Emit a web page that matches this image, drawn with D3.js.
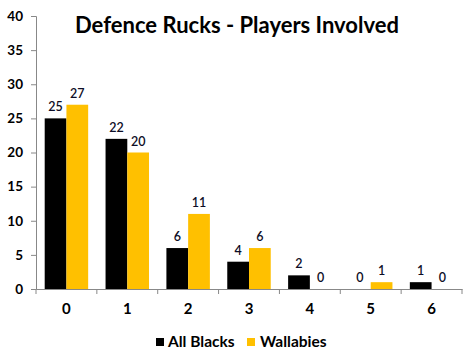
<!DOCTYPE html>
<html><head><meta charset="utf-8">
<script src="https://cdn.jsdelivr.net/npm/d3@7"></script>
<style>body{margin:0;background:#fff}svg{display:block}</style>
</head><body>
<script>
const categories = ["0","1","2","3","4","5","6"];
const seriesNames = ["All Blacks","Wallabies"];
const allBlacks = [25,22,6,4,2,0,1];
const wallabies = [27,20,11,6,0,1,0];
const yTicks = [0,5,10,15,20,25,30,35,40];
const title = "Defence Rucks - Players Involved";
const colors = ["#000000","#FFC000"];

(function(){
const W=470,H=356;
const svg=d3.select("body").append("svg").attr("width",W).attr("height",H);
const mLeft=36,mRight=462,mTop=16,mBottom=289;
const x=d3.scaleBand().domain(categories).range([mLeft,mRight]).paddingInner(0).paddingOuter(0);
const x1=d3.scaleBand().domain(seriesNames).range([0,x.bandwidth()]).paddingInner(0).paddingOuter(0.4);
const y=d3.scaleLinear().domain([0,40]).range([mBottom,mTop]);
const font="Lato, 'Open Sans', sans-serif";

const ya=svg.append("g").attr("transform",`translate(${mLeft},0)`)
  .call(d3.axisLeft(y).tickValues(yTicks).tickSize(5).tickPadding(8));
ya.select(".domain").attr("stroke","#888");
ya.selectAll(".tick line").attr("stroke","#888");
ya.selectAll("text").attr("font-family",font).attr("font-weight","bold").attr("font-size","13.5px").attr("fill","#000");

const xa=svg.append("g").attr("transform",`translate(0,${mBottom})`)
  .call(d3.axisBottom(x).tickSize(0).tickPadding(14));
xa.select(".domain").attr("stroke","#888");
xa.selectAll("text").attr("font-family",font).attr("font-weight","bold").attr("font-size","15px").attr("fill","#000");
const bounds=categories.map(c=>x(c)).concat([x.range()[1]]);
svg.append("g").selectAll("line").data(bounds).join("line")
  .attr("x1",d=>d).attr("x2",d=>d).attr("y1",mBottom).attr("y2",mBottom+5).attr("stroke","#888");

const series=[allBlacks,wallabies];
series.forEach((vals,si)=>{
  const g=svg.append("g");
  g.selectAll("rect").data(vals).join("rect")
    .attr("x",(d,i)=>x(categories[i])+x1(seriesNames[si]))
    .attr("width",x1.bandwidth())
    .attr("y",d=>y(d)).attr("height",d=>y(0)-y(d))
    .attr("fill",colors[si]);
  g.selectAll("text").data(vals).join("text")
    .attr("x",(d,i)=>x(categories[i])+x1(seriesNames[si])+x1.bandwidth()/2)
    .attr("y",d=>y(d)-7)
    .attr("text-anchor","middle")
    .attr("font-family",font).attr("font-size","12.5px").attr("font-weight","600")
    .attr("fill","#0d0d26").text(d=>d);
});

svg.append("text").attr("x",237).attr("y",33).attr("text-anchor","middle")
  .attr("font-family",font).attr("font-weight","bold").attr("font-size","22px")
  .attr("fill","#000").text(title);

const leg=[{x:156,tx:168},{x:247,tx:260}];
seriesNames.forEach((n,i)=>{
  svg.append("rect").attr("x",leg[i].x).attr("y",338).attr("width",8).attr("height",8).attr("fill",colors[i]);
  svg.append("text").attr("x",leg[i].tx).attr("y",347).attr("font-family",font).attr("font-weight","bold")
    .attr("font-size","15.5px").attr("fill","#000").text(n);
});
})();
</script>
</body></html>
